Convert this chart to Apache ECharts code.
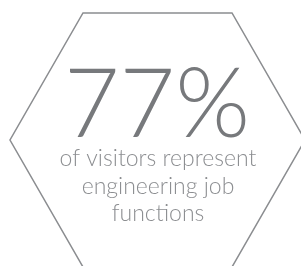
<!DOCTYPE html>
<html>
<head>
<meta charset="utf-8">
<script src="https://cdn.jsdelivr.net/npm/echarts@6/dist/echarts.min.js"></script>
<style>
  html, body { margin: 0; padding: 0; background: #fff; }
  #chart { width: 301px; height: 266px; }
</style>
</head>
<body>
<div id="chart"></div>
<script>
// headline stat and caption lines
const statValue = ['77%']
const captionLines = ['of visitors represent', 'engineering job', 'functions']

const hexPoints = [[83, 13], [232, 13], [305, 140], [232, 267], [83, 267], [10, 140]]

const chart = echarts.init(document.getElementById('chart'))

chart.setOption({
    animation: false,
    graphic: [
        {
            type: 'polygon',
            shape: { points: hexPoints },
            style: { fill: 'none', stroke: '#8b8d90', lineWidth: 1.5 }
        },
        {
            type: 'text',
            x: 157,
            y: 154,
            style: {
                text: statValue[0],
                font: '300 96px Lato, "Open Sans", sans-serif',
                fill: '#77797c',
                align: 'center',
                verticalAlign: 'bottom'
            }
        },
        {
            type: 'text',
            x: 158,
            y: 145,
            style: {
                text: captionLines.join('\n'),
                font: '300 23px Lato, "Open Sans", sans-serif',
                lineHeight: 27.5,
                fill: '#8c8e91',
                align: 'center',
                verticalAlign: 'top'
            }
        }
    ]
})
</script>
</body>
</html>
